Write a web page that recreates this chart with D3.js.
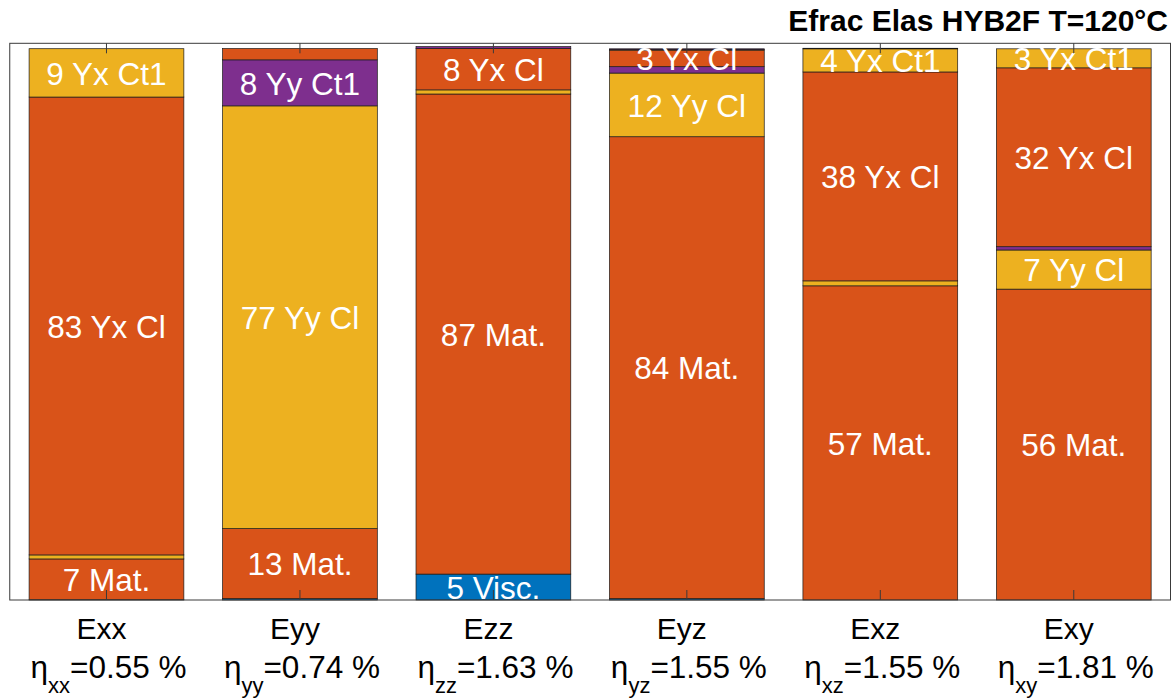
<!DOCTYPE html>
<html>
<head>
<meta charset="utf-8">
<script src="https://cdn.jsdelivr.net/npm/d3@7"></script>
<style>
  html, body { margin: 0; padding: 0; background: #fff; }
  svg { display: block; font-family: "Liberation Sans", Arial, Helvetica, sans-serif; }
</style>
</head>
<body>
<svg id="chart" width="1172" height="700"></svg>
<script>
// Strain cases along the x axis and the subscripts of their eta values
const categories = ["Exx", "Eyy", "Ezz", "Eyz", "Exz", "Exy"];
const etaSubscripts = ["xx", "yy", "zz", "yz", "xz", "xy"];
const etaValues = [0.55, 0.74, 1.63, 1.55, 1.55, 1.81];

// Energy fraction contributions (%), stacked from the bottom up
const seriesNames = ["Visc.", "Mat.", "Yy Cl", "Yy Ct1", "Yx Cl", "Yx Ct1", "rest"];
const visc   = [0.05, 0.25, 4.7, 0.25, 0, 0];
const mat    = [7.4, 12.7, 87.1, 83.8, 57.0, 56.4];
const yyCl   = [0.73, 76.7, 0.75, 11.55, 0.9, 7.1];
const yyCt1  = [0, 8.35, 0, 1.16, 0, 0.6];
const yxCl   = [83.07, 2.05, 7.5, 3.0, 37.9, 32.45];
const yxCt1  = [8.77, 0, 0, 0.12, 4.2, 3.45];
const rest   = [0, 0, 0.35, 0.12, 0.1, 0];
const seriesColors = ["#0072BD", "#D95319", "#EDB120", "#7E2F8E", "#D95319", "#EDB120", "#7E2F8E"];

const titleText = "Efrac Elas HYB2F T=120°C";

const seriesValues = [visc, mat, yyCl, yyCt1, yxCl, yxCt1, rest];
const labelMin = 2.5;

const svg = d3.select("#chart");
const plotLeft = 9.75, plotRight = 1170.5, plotTop = 43.3, plotBottom = 600;

const x = d3.scaleBand()
  .domain(categories)
  .range([plotLeft, plotRight])
  .paddingInner(0.2)
  .paddingOuter(0.1);

const y = d3.scaleLinear()
  .domain([0, 101])
  .range([plotBottom, plotTop]);

// Build stacked segments
const rows = categories.map((c, i) => {
  const r = { cat: c };
  seriesNames.forEach((s, k) => { r[s] = seriesValues[k][i]; });
  return r;
});
const stacked = d3.stack().keys(seriesNames)(rows);

const bars = svg.append("g");
stacked.forEach((layer, k) => {
  bars.selectAll(null)
    .data(layer)
    .join("rect")
    .attr("x", d => x(d.data.cat))
    .attr("width", x.bandwidth())
    .attr("y", d => y(d[1]))
    .attr("height", d => Math.max(0, y(d[0]) - y(d[1])))
    .attr("fill", seriesColors[k])
    .attr("stroke", "#1a1a1a")
    .attr("stroke-width", 0.7);
});

// Segment value labels
const labels = svg.append("g")
  .attr("fill", "#fff")
  .attr("font-size", 31.5)
  .attr("text-anchor", "middle");
stacked.forEach((layer, k) => {
  if (seriesNames[k] === "rest") return;
  labels.selectAll(null)
    .data(layer.filter(d => (d[1] - d[0]) >= labelMin))
    .join("text")
    .attr("x", d => x(d.data.cat) + x.bandwidth() / 2)
    .attr("y", d => (y(d[0]) + y(d[1])) / 2)
    .attr("dy", "0.37em")
    .text(d => `${Math.round(d[1] - d[0])} ${seriesNames[k]}`);
});

// Axes box with inward ticks at bar centres
svg.append("rect")
  .attr("x", plotLeft).attr("y", plotTop)
  .attr("width", plotRight - plotLeft).attr("height", plotBottom - plotTop)
  .attr("fill", "none")
  .attr("stroke", "#3a3a3a")
  .attr("stroke-width", 1);

const topAxis = svg.append("g")
  .attr("transform", `translate(0,${plotTop})`)
  .call(d3.axisTop(x).tickSize(-10).tickFormat(""));
const bottomAxis = svg.append("g")
  .attr("transform", `translate(0,${plotBottom})`)
  .call(d3.axisBottom(x).tickSize(-10).tickFormat(""));
[topAxis, bottomAxis].forEach(g => {
  g.select(".domain").remove();
  g.selectAll(".tick line").attr("stroke", "#3a3a3a").attr("stroke-width", 1);
});

// Two-line category labels
const tickLabels = svg.append("g")
  .attr("fill", "#000")
  .attr("text-anchor", "middle");
categories.forEach((c, i) => {
  const cx = x(c) + x.bandwidth() / 2;
  tickLabels.append("text")
    .attr("x", cx - 5)
    .attr("y", 639)
    .attr("font-size", 30)
    .text(c);
  const t = tickLabels.append("text")
    .attr("x", cx + 2)
    .attr("y", 678)
    .attr("font-size", 31.5);
  t.append("tspan").text("η");
  t.append("tspan").attr("font-size", 22).attr("dy", 15).text(etaSubscripts[i]);
  t.append("tspan").attr("dy", -15).text(`=${etaValues[i].toFixed(2)} %`);
});

// Title
svg.append("text")
  .attr("x", 1168)
  .attr("y", 31)
  .attr("text-anchor", "end")
  .attr("font-size", 30)
  .attr("font-weight", "bold")
  .attr("fill", "#000")
  .text(titleText);
</script>
</body>
</html>
